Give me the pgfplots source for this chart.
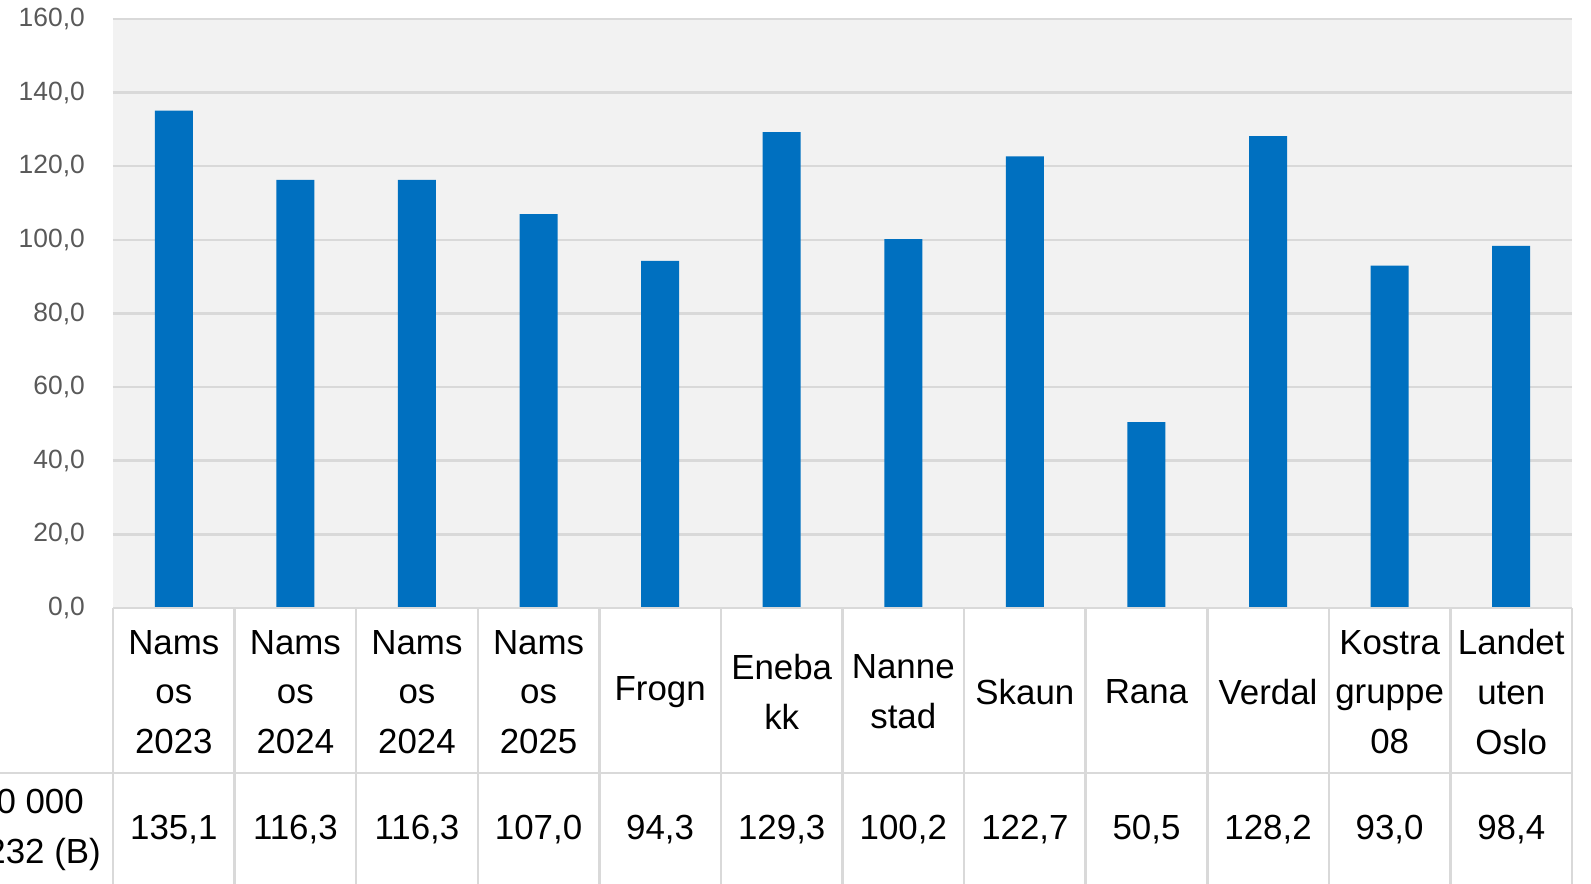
\documentclass[border=0pt]{standalone}
\usepackage{fontspec}
\setmainfont{Liberation Sans}
\usepackage{pgfplots}
\pgfplotsset{compat=1.18}
\definecolor{barblue}{HTML}{0070C0}
\definecolor{gridgray}{HTML}{D9D9D9}
\definecolor{plotbg}{HTML}{F2F2F2}
\definecolor{ticktext}{HTML}{595959}
\begin{document}
\begin{tikzpicture}[x=1bp,y=1bp]
\useasboundingbox (-113,-275) rectangle (1478,608);
\begin{axis}[
  at={(0,0)}, anchor=south west,
  scale only axis, width=1459bp, height=589bp,
  xmin=-0.5, xmax=11.5, ymin=0, ymax=160,
  clip=false,
  axis background/.style={fill=plotbg},
  axis line style={draw=none},
  major tick length=0pt,
  ytick={0,20,...,160},
  ymajorgrids,
  grid style={gridgray, line width=2.5bp},
  xtick={0,...,11},
  xticklabels={{Nams\\os\\2023},{Nams\\os\\2024},{Nams\\os\\2024},{Nams\\os\\2025},{Frogn},{Eneba\\kk},{Nanne\\stad},{Skaun},{Rana},{Verdal},{Kostra\\gruppe\\08},{Landet\\uten\\Oslo}},
  xticklabel style={font=\fontsize{35}{50}\selectfont, align=center, anchor=center, inner sep=0pt, yshift=-84bp, text=black},
  yticklabel style={font=\fontsize{26.5}{30}\selectfont, text=ticktext, inner sep=0pt, anchor=east, xshift=-28bp},
  nodes near coords style={font=\fontsize{35}{42}\selectfont, anchor=center, inner sep=0pt, text=black},
  /pgf/number format/use comma,
  /pgf/number format/fixed,
  /pgf/number format/fixed zerofill,
  /pgf/number format/precision=1,
  /pgf/number format/1000 sep={},
  /pgf/number format/assume math mode=true,
]
\addplot[ybar, bar width=38bp, fill=barblue, draw=none] coordinates {
  (0,135.1) (1,116.3) (2,116.3) (3,107.0) (4,94.3) (5,129.3)
  (6,100.2) (7,122.7) (8,50.5) (9,128.2) (10,93.0) (11,98.4)
};
\addplot[draw=none, mark=none, nodes near coords, point meta=explicit] coordinates {
  (0,-60.3) [135.1] (1,-60.3) [116.3] (2,-60.3) [116.3] (3,-60.3) [107.0]
  (4,-60.3) [94.3] (5,-60.3) [129.3] (6,-60.3) [100.2] (7,-60.3) [122.7]
  (8,-60.3) [50.5] (9,-60.3) [128.2] (10,-60.3) [93.0] (11,-60.3) [98.4]
};
\end{axis}
\foreach \k in {0,...,12} \draw[gridgray, line width=2.5bp] ({\k*121.5833},0) -- ({\k*121.5833},-285);
\draw[gridgray, line width=2.5bp] (0,0) -- (1459,0);
\draw[gridgray, line width=2.5bp] (-120,-165) -- (1459,-165);
\node[anchor=base east, inner sep=0pt, font=\fontsize{35}{50}\selectfont] at (-29,-205) {0 000};
\node[anchor=base east, inner sep=0pt, font=\fontsize{35}{50}\selectfont] at (-12,-255) {232 (B)};
\end{tikzpicture}
\end{document}
